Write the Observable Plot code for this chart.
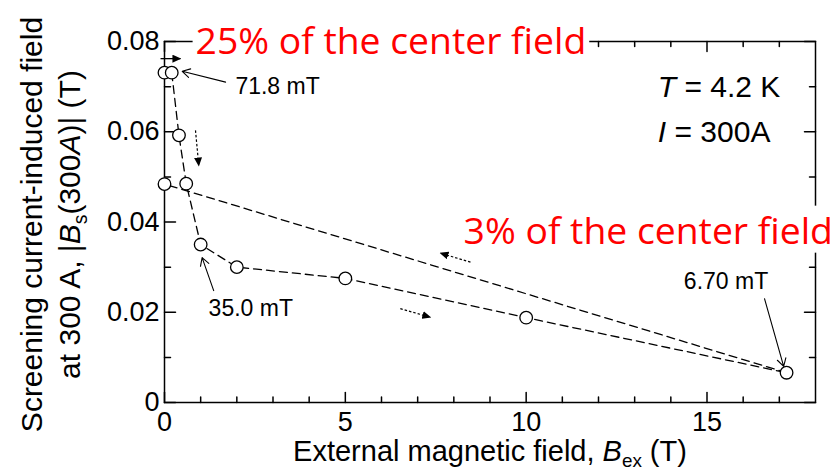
<!DOCTYPE html>
<html><head><meta charset="utf-8">
<script src="https://cdn.jsdelivr.net/npm/d3@7"></script>
<script src="https://cdn.jsdelivr.net/npm/@observablehq/plot@0.6"></script>
<style>html,body{margin:0;padding:0;background:#fff;}</style>
</head><body><div id="chart"></div>
<script>
// ---- data ----
const fieldPts = [0, 0.2, 0.4, 0.6, 1, 2, 5, 10, 17.2, 0];
const bsPts    = [0.0731, 0.0731, 0.0592, 0.0485, 0.0350, 0.0300, 0.0275, 0.0188, 0.0066, 0.0484];
const fieldDown = [0.2, 0.4, 0.6, 1, 2, 5, 10, 17.2];
const bsDown    = [0.0731, 0.0592, 0.0485, 0.0350, 0.0300, 0.0275, 0.0188, 0.0066];
const fieldBack = [17.2, 0];
const bsBack    = [0.0066, 0.0484];

const xMajor = [0, 5, 10, 15];
const xMinor = [1, 2, 3, 4, 6, 7, 8, 9, 11, 12, 13, 14, 16, 17];
const xTickLabels = ["0", "5", "10", "15"];
const yMajor = [0, 0.02, 0.04, 0.06, 0.08];
const yMinor = [0.01, 0.03, 0.05, 0.07];
const yTickLabels = ["0", "0.02", "0.04", "0.06", "0.08"];

const xTitle = "External magnetic field, Bex (T)";
const yTitle1 = "Screening current-induced field";
const yTitle2 = "at 300 A, |Bs(300A)| (T)";
const noteTop = "25% of the center field";
const noteMid = "3% of the center field";
const condT = "T = 4.2 K";
const condI = "I = 300A";
const labels = ["71.8 mT", "35.0 mT", "6.70 mT"];

const pts = fieldPts.map((x, i) => ({x, y: bsPts[i]}));
const down = fieldDown.map((x, i) => ({x, y: bsDown[i]}));
const back = fieldBack.map((x, i) => ({x, y: bsBack[i]}));

const FONT = "'Liberation Sans', Arial, Helvetica, sans-serif";
const RED_FONT = "'Open Sans', Carlito, Lato, sans-serif";

const W = 837, H = 470, ML = 164, MR = 22, MT = 41, MB = 68;
const X0 = 0, X1 = 18, Y0 = 0, Y1 = 0.08;
// tick lengths (px) expressed in data units of each scale
const pxX = (X1 - X0) / (W - ML - MR), pxY = (Y1 - Y0) / (H - MT - MB);
const tickSeg = (vals, len, side) => vals.map(v =>
  side === "bottom" ? {x1: v, x2: v, y1: Y0, y2: Y0 + len * pxY} :
  side === "top"    ? {x1: v, x2: v, y1: Y1, y2: Y1 - len * pxY} :
  side === "left"   ? {y1: v, y2: v, x1: X0, x2: X0 + len * pxX} :
                      {y1: v, y2: v, x1: X1, x2: X1 - len * pxX});
const ticks = [
  ...tickSeg(xMajor, 10, "bottom"), ...tickSeg(xMinor, 5.5, "bottom"),
  ...tickSeg(xMajor, 10, "top"), ...tickSeg(xMinor, 5, "top"),
  ...tickSeg(yMajor, 11, "left"), ...tickSeg(yMinor, 6, "left"),
  ...tickSeg(yMajor, 11, "right"), ...tickSeg(yMinor, 6, "right")
];

const plot = Plot.plot({
  width: W, height: H,
  marginLeft: ML, marginRight: MR, marginTop: MT, marginBottom: MB,
  x: {domain: [X0, X1], label: null},
  y: {domain: [Y0, Y1], label: null},
  style: {fontFamily: FONT, fontSize: "27px", color: "black", background: "white"},
  marks: [
    Plot.frame({stroke: "black", strokeWidth: 1.5}),
    // inward ticks on all four sides
    Plot.arrow(ticks, {x1: "x1", y1: "y1", x2: "x2", y2: "y2", headLength: 0, stroke: "black", strokeWidth: 1.5}),
    // tick labels
    Plot.axisX({anchor: "bottom", ticks: xMajor, tickSize: 0, tickPadding: 9, tickFormat: d => xTickLabels[xMajor.indexOf(d)], fontSize: 27, label: null}),
    Plot.axisY({anchor: "left", ticks: yMajor, tickSize: 0, tickPadding: 5, tickFormat: d => yTickLabels[yMajor.indexOf(d)], fontSize: 27, label: null}),
    // axis titles
    Plot.text([xTitle], {frameAnchor: "bottom", dy: 58, lineAnchor: "bottom", fontSize: 29}),
    Plot.text([yTitle1], {frameAnchor: "left", rotate: -90, dx: -132, dy: 2.5, lineAnchor: "middle", textAnchor: "middle", fontSize: 30}),
    Plot.text([yTitle2], {frameAnchor: "left", rotate: -90, dx: -94, dy: 2.5, lineAnchor: "middle", textAnchor: "middle", fontSize: 30}),
    // dashed measurement paths
    Plot.line(down, {x: "x", y: "y", stroke: "black", strokeWidth: 1.3, strokeDasharray: "8,5"}),
    Plot.line(back, {x: "x", y: "y", stroke: "black", strokeWidth: 1.3, strokeDasharray: "8,5"}),
    Plot.dot(pts, {x: "x", y: "y", r: 6.3, fill: "white", stroke: "black", strokeWidth: 1.3}),
    // direction arrows (filled heads added below)
    Plot.link([{x1: -0.11, y1: 0.0762, x2: 0.44, y2: 0.0762}], {x1: "x1", y1: "y1", x2: "x2", y2: "y2", stroke: "black", strokeWidth: 1.3}),
    Plot.link([
      {x1: 0.857, y1: 0.0603, x2: 0.948, y2: 0.0525},
      {x1: 8.46, y1: 0.0311, x2: 7.63, y2: 0.0331},
      {x1: 6.52, y1: 0.0208, x2: 7.35, y2: 0.0189}
    ], {x1: "x1", y1: "y1", x2: "x2", y2: "y2", stroke: "black", strokeWidth: 1.2, strokeDasharray: "2.5,2"}),
    // value annotations
    Plot.arrow([
      {x1: 1.69, y1: 0.0710, x2: 0.49, y2: 0.0734},
      {x1: 1.36, y1: 0.0248, x2: 1.04, y2: 0.0321},
      {x1: 16.59, y1: 0.0230, x2: 17.12, y2: 0.0080}
    ], {x1: "x1", y1: "y1", x2: "x2", y2: "y2", stroke: "black", strokeWidth: 1.1, headLength: 12, headAngle: 60}),
    Plot.text([{x: 1.96, y: 0.0683, t: labels[0]}, {x: 1.22, y: 0.0191, t: labels[1]}, {x: 14.36, y: 0.0252, t: labels[2]}],
      {x: "x", y: "y", text: "t", textAnchor: "start", lineAnchor: "bottom", fontSize: 23}),
    Plot.text([{x: 13.64, y: 0.0678, t: condT}, {x: 13.64, y: 0.0577, t: condI}],
      {x: "x", y: "y", text: "t", textAnchor: "start", lineAnchor: "bottom", fontSize: 30}),
    // red notes
    Plot.text([{x: 0.86, y: 0.0773, t: noteTop}, {x: 8.27, y: 0.0352, t: noteMid}],
      {x: "x", y: "y", text: "t", textAnchor: "start", lineAnchor: "bottom", fontSize: 37.3, fill: "#ff0000", fontFamily: RED_FONT})
  ]
});
document.getElementById("chart").append(plot);

// ---- post-processing: rich text, arrowheads, white boxes ----
const NS = "http://www.w3.org/2000/svg";
const svg = plot.tagName.toLowerCase() === "svg" ? plot : plot.querySelector("svg");
const findText = s => Array.from(svg.querySelectorAll("text")).find(t => t.textContent === s);

function rich(str, parts, fs) {
  const t = findText(str);
  if (!t) return;
  t.textContent = "";
  let shift = 0;
  for (const p of parts) {
    const ts = document.createElementNS(NS, "tspan");
    ts.textContent = p.t;
    if (p.i) ts.setAttribute("font-style", "italic");
    const want = p.sub ? fs * 0.22 : 0;
    if (want !== shift) { ts.setAttribute("dy", want - shift); shift = want; }
    if (p.sub) ts.setAttribute("font-size", fs * 0.65);
    t.appendChild(ts);
  }
}
// white boxes behind the red notes (they hide the top frame, as in the original)
for (const s of [noteTop, noteMid]) {
  const t = findText(s);
  if (!t) continue;
  const b = t.getBBox();
  const r = document.createElementNS(NS, "rect");
  r.setAttribute("x", b.x - 3); r.setAttribute("y", b.y + 2);
  r.setAttribute("width", b.width + 6); r.setAttribute("height", b.height - 4);
  r.setAttribute("fill", "white");
  const tr = t.getAttribute("transform");
  if (tr) r.setAttribute("transform", tr);
  t.parentNode.insertBefore(r, t);
}
rich(xTitle, [{t: "External magnetic field, "}, {t: "B", i: true}, {t: "ex", sub: true}, {t: " (T)"}], 29);
rich(yTitle2, [{t: "at 300 A, |"}, {t: "B", i: true}, {t: "s", sub: true}, {t: "(300"}, {t: "A", i: true}, {t: ")| (T)"}], 30);
rich(condT, [{t: "T", i: true}, {t: " = 4.2 K"}], 30);
rich(condI, [{t: "I", i: true}, {t: " = 300A"}], 30);

const defs = d3.select(svg).insert("defs", ":first-child");
defs.append("marker").attr("id", "tri").attr("viewBox", "0 0 9 8").attr("refX", 8).attr("refY", 4)
  .attr("markerWidth", 9).attr("markerHeight", 8).attr("markerUnits", "userSpaceOnUse").attr("orient", "auto")
  .append("path").attr("d", "M0,0L9,4L0,8Z").attr("fill", "black").attr("stroke", "none");
d3.select(svg).selectAll('g[aria-label="link"] path').attr("marker-end", "url(#tri)");
</script></body></html>
